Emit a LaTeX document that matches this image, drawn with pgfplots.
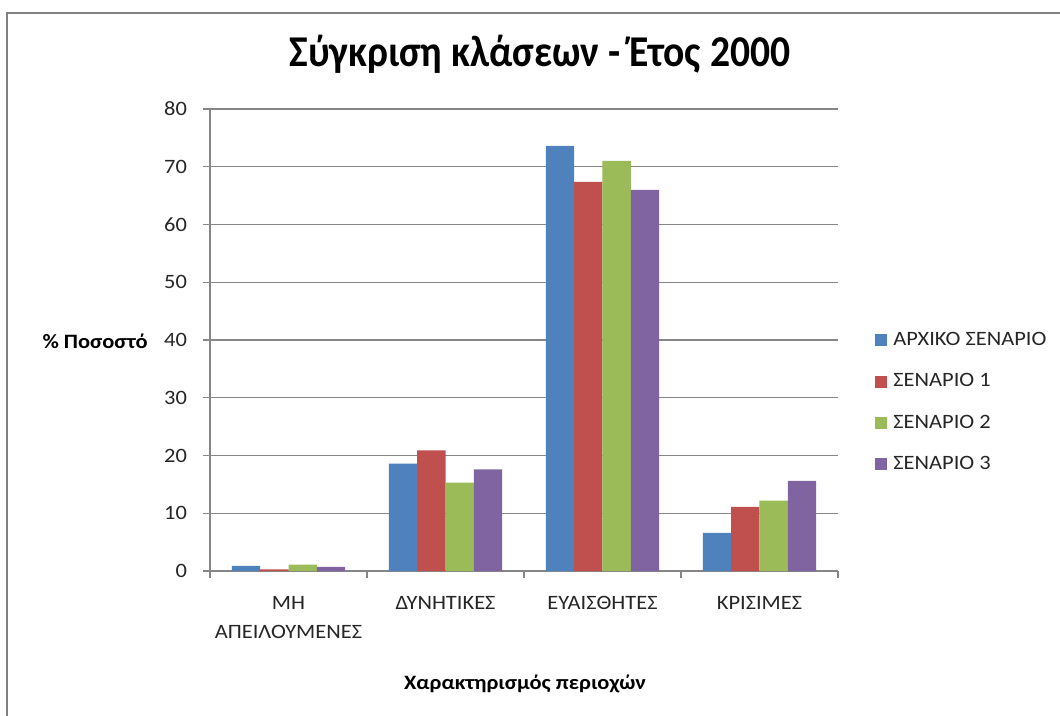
\documentclass[border=0pt]{standalone}
\usepackage{fontspec}
\setmainfont{Carlito}
\newfontfamily\wf[FakeStretch=1.1]{Carlito}
\newfontfamily\ttl[FakeStretch=0.9]{Carlito}
\usepackage{pgfplots}
\pgfplotsset{compat=1.18}
\definecolor{cA}{HTML}{4F81BD}
\definecolor{cB}{HTML}{C0504D}
\definecolor{cC}{HTML}{9BBB59}
\definecolor{cD}{HTML}{8064A2}
\definecolor{gridc}{HTML}{868686}
\definecolor{framec}{HTML}{808080}
\definecolor{txt}{HTML}{262626}
\newcommand{\tf}{\wf\fontsize{10.2}{14.5}\selectfont}
\begin{document}
\begin{tikzpicture}
\useasboundingbox (0,0) rectangle (530pt,-358pt);
\fill[white] (0,0) rectangle (530pt,-358pt);
\draw[framec, line width=1pt] (3.5pt,-362pt) -- (3.5pt,-6.5pt) -- (534pt,-6.5pt);
\begin{axis}[
  at={(105pt,-285.5pt)}, anchor=south west,
  scale only axis, width=314pt, height=231pt,
  xmin=-0.5, xmax=3.5, ymin=0, ymax=80,
  ytick={0,10,...,80},
  ymajorgrids, grid style={gridc, line width=0.6pt},
  axis x line=bottom, axis y line=left,
  axis line style={-, gridc, line width=0.6pt},
  tick style={gridc, line width=0.6pt},
  major tick length=3.5pt, tick align=outside,
  xtick={-0.5,0.5,1.5,2.5,3.5}, xticklabels={},
  extra x ticks={0,1,2,3},
  extra x tick labels={{ΜΗ\\ΑΠΕΙΛΟΥΜΕΝΕΣ},ΔΥΝΗΤΙΚΕΣ,ΕΥΑΙΣΘΗΤΕΣ,ΚΡΙΣΙΜΕΣ},
  extra x tick style={major tick length=0pt, grid=none},
  x tick label style={font=\tf, text=txt, align=center, anchor=north, yshift=-9pt},
  y tick label style={font=\tf, text=txt, anchor=east, xshift=-4.5pt},
  /pgf/number format/assume math mode=true,
  title={Σύγκριση κλάσεων - Έτος 2000},
  title style={at={(rel axis cs:0.5255,1.093)}, anchor=center, font=\ttl\bfseries\fontsize{22}{26}\selectfont, text=black},
  ylabel={\% Ποσοστό},
  every axis y label/.style={at={(rel axis cs:-0.183,0.498)}, anchor=center, font=\tf\bfseries, text=black},
  xlabel={Χαρακτηρισμός περιοχών},
  every axis x label/.style={at={(rel axis cs:0.5016,-0.2446)}, anchor=center, font=\tf\bfseries, text=black},
  legend style={draw=none, fill=none, at={(rel axis cs:1.059,0.365)}, anchor=west,
    inner sep=0pt, font=\tf, text=txt, row sep=11.7pt,
    nodes={inner sep=0pt, text height=7pt, text depth=2pt},
    /tikz/every odd column/.append style={column sep=3pt}},
  legend cell align=left,
  legend image code/.code={\fill[#1] (0pt,-3pt) rectangle (6pt,3pt);},
]
\addplot[ybar, bar width=0.18, bar shift=-0.27, fill=cA, draw=none] coordinates {(0,0.9) (1,18.6) (2,73.6) (3,6.6)};
\addplot[ybar, bar width=0.18, bar shift=-0.09, fill=cB, draw=none] coordinates {(0,0.3) (1,20.9) (2,67.4) (3,11.1)};
\addplot[ybar, bar width=0.18, bar shift=0.09, fill=cC, draw=none] coordinates {(0,1.1) (1,15.3) (2,71.0) (3,12.2)};
\addplot[ybar, bar width=0.18, bar shift=0.27, fill=cD, draw=none] coordinates {(0,0.7) (1,17.6) (2,66.0) (3,15.6)};
\legend{ΑΡΧΙΚΟ ΣΕΝΑΡΙΟ, ΣΕΝΑΡΙΟ 1, ΣΕΝΑΡΙΟ 2, ΣΕΝΑΡΙΟ 3}
\end{axis}
\end{tikzpicture}
\end{document}
